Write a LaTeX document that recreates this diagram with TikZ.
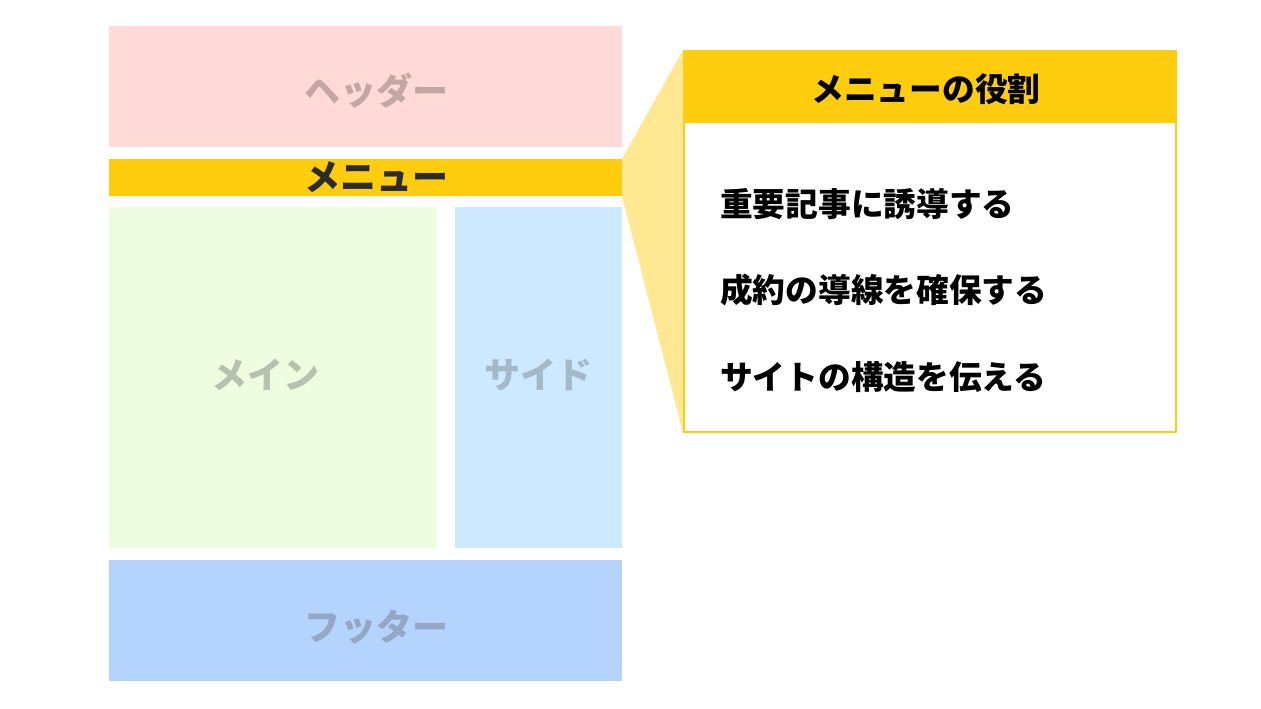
\documentclass[tikz,border=0pt]{standalone}
\usepackage{fontspec}
\newfontfamily\jp{Noto Sans CJK JP}
\definecolor{hdr}{HTML}{FFDAD6}
\definecolor{hdrtxt}{HTML}{C4A6A2}
\definecolor{gold}{HTML}{FFCD0E}
\definecolor{menutxt}{HTML}{2B2B2B}
\definecolor{mainc}{HTML}{EEFDE0}
\definecolor{maintxt}{HTML}{B4C2AE}
\definecolor{sidec}{HTML}{CCE9FF}
\definecolor{sidetxt}{HTML}{A4B8C8}
\definecolor{footc}{HTML}{B5D3FF}
\definecolor{foottxt}{HTML}{94A8C4}
\definecolor{wedge}{HTML}{FFE891}
\begin{document}
\begin{tikzpicture}[x=1pt,y=-1pt,
  block/.style={font=\jp\bfseries\fontsize{36}{40}\selectfont, inner sep=0pt},
  item/.style={font=\jp\bfseries\fontsize{32.7}{38}\selectfont, inner sep=0pt, anchor=west, text=black}]
\useasboundingbox[fill=white] (0,0) rectangle (1261,709);
% wedge
\fill[wedge] (622,159) -- (683,50) -- (683,433) -- (622,196) -- cycle;
% blocks
\fill[hdr] (109,26) rectangle (622,147);
\fill[gold] (109,159) rectangle (622,196);
\fill[mainc] (109,207) rectangle (436,548);
\fill[sidec] (455,207) rectangle (622,548);
\fill[footc] (109,560) rectangle (622,681);
\node[block, text=hdrtxt] (header) at (376,91) {ヘッダー};
\node[block, text=menutxt] (menu) at (376,177) {メニュー};
\node[block, text=maintxt] (main) at (265,375) {メイン};
\node[block, text=sidetxt] (side) at (538,375) {サイド};
\node[block, text=foottxt] (footer) at (376,627) {フッター};
% callout box
\fill[white] (684,51) rectangle (1176,432);
\fill[gold] (683,50) rectangle (1177,123);
\draw[gold, line width=2pt] (684,51) rectangle (1176,432);
\node[block, font=\jp\bfseries\fontsize{32.7}{38}\selectfont, text=black] (title) at (926,89) {メニューの役割};
\node[item] (i1) at (720,204) {重要記事に誘導する};
\node[item] (i2) at (720,290) {成約の導線を確保する};
\node[item] (i3) at (720,377) {サイトの構造を伝える};
\end{tikzpicture}
\end{document}
